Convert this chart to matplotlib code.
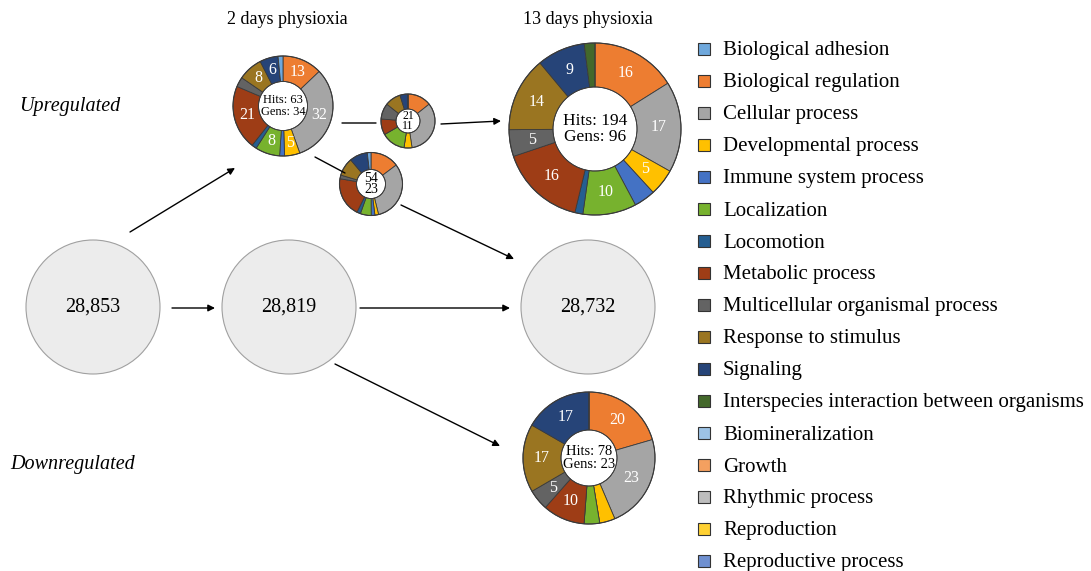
import matplotlib
matplotlib.use("Agg")
import matplotlib.pyplot as plt
from matplotlib.patches import Circle, Rectangle
import numpy as np

W, H = 1091, 571

categories = ["Biological adhesion", "Biological regulation", "Cellular process",
              "Developmental process", "Immune system process", "Localization",
              "Locomotion", "Metabolic process", "Multicellular organismal process",
              "Response to stimulus", "Signaling", "Interspecies interaction between organisms",
              "Biomineralization", "Growth", "Rhythmic process", "Reproduction",
              "Reproductive process"]
colors = ["#6FA8DC", "#ED7D31", "#A5A5A5", "#FFC000", "#4472C4", "#77B22E",
          "#255E91", "#9E3D16", "#636363", "#9A7521", "#264478", "#43682B",
          "#9DC3E6", "#F4A060", "#BDBDBD", "#FFD133", "#6F90D0"]

# order of wedges clockwise from 12 o'clock (category names)
ring_order = ["Biological regulation", "Cellular process", "Developmental process",
              "Immune system process", "Localization", "Locomotion", "Metabolic process",
              "Multicellular organismal process", "Response to stimulus", "Signaling",
              "Interspecies interaction between organisms", "Biological adhesion"]

# percentages per category (ring order)
up_2d      = [13, 32, 5, 1.6, 8, 1.6, 21, 3.2, 8, 6, 0, 1.6]
up_2d_13d  = [14.3, 33.3, 4.8, 0, 14.3, 0, 9.5, 9.5, 9.5, 4.8, 0, 0]
up_2d_only = [14.8, 31.5, 1.9, 1.9, 5.6, 1.9, 20.4, 1.9, 9.3, 9.3, 0, 1.9]
up_13d     = [16, 17, 5, 4, 10, 1.5, 16, 5, 14, 9, 2, 0]
down_13d   = [20.5, 23.1, 3.8, 0, 3.8, 0, 10.3, 5.1, 16.7, 16.7, 0, 0]

total_counts = ["28,853", "28,819", "28,732"]
center_texts = ["Hits: 63\nGens: 34", "21\n11", "54\n23", "Hits: 194\nGens: 96", "Hits: 78\nGens: 23"]

SERIF = ["Liberation Serif", "DejaVu Serif"]

fig = plt.figure(figsize=(W / 100, H / 100), dpi=100)
ax = fig.add_axes([0, 0, 1, 1])

def Y(y):
    return H - y

def donut(vals, cx, cy, r, ri, ctext, cfs, lfs, labels=True, ls=0.95):
    cols = [colors[categories.index(n)] for n in ring_order]
    wedges, _ = ax.pie(vals, colors=cols[:len(vals)], radius=r, center=(cx, Y(cy)),
                       startangle=90, counterclock=False, frame=True,
                       wedgeprops=dict(width=r - ri, edgecolor="#3a3a3a", linewidth=0.6))
    ax.add_patch(Circle((cx, Y(cy)), r, fill=False, edgecolor="#3a3a3a", lw=0.8, zorder=3))
    ax.add_patch(Circle((cx, Y(cy)), ri, fill=False, edgecolor="#3a3a3a", lw=0.6, zorder=3))
    if labels:
        rm = (r + ri) / 2
        for w, val in zip(wedges, vals):
            if val >= 4.5:
                a = np.deg2rad((w.theta1 + w.theta2) / 2)
                ax.text(cx + rm * np.cos(a), Y(cy) + rm * np.sin(a), f"{round(val)}",
                        color="white", fontsize=lfs, ha="center", va="center",
                        family=SERIF, zorder=4)
    ax.text(cx, Y(cy), ctext, fontsize=cfs, ha="center", va="center", family=SERIF,
            linespacing=ls, zorder=4)

# big gray circles
for (cx, cy), t in zip([(93, 307), (289, 307), (588, 307)], total_counts):
    ax.add_patch(Circle((cx, Y(cy)), 67, facecolor="#ECECEC", edgecolor="#A0A0A0", lw=0.8))
    ax.text(cx, Y(cy), t, fontsize=14.5, ha="center", va="center", family=SERIF)

donut(up_2d, 283, 106, 50, 24.5, center_texts[0], 9, 11.5)
donut(up_2d_13d, 408, 121, 27, 12, center_texts[1], 8.5, 8, labels=False, ls=0.8)
donut(up_2d_only, 371, 184, 31.5, 14.5, center_texts[2], 10, 8, labels=False, ls=0.8)
donut(up_13d, 595, 129, 86, 42, center_texts[3], 12.5, 11.5)
donut(down_13d, 589, 458, 66, 28, center_texts[4], 10.5, 11.5)

def arrow(x0, y0, x1, y1, head=True):
    ax.annotate("", xy=(x1, Y(y1)), xytext=(x0, Y(y0)),
                arrowprops=dict(arrowstyle="-|>" if head else "-", color="black", lw=1.0,
                                mutation_scale=10, shrinkA=0, shrinkB=0))

arrow(130, 232, 235, 168)
arrow(172, 308, 215, 308)
arrow(360, 308, 510, 308)
arrow(335, 364, 500, 446)
arrow(342, 123, 376, 123, head=False)
arrow(441, 124, 501, 121)
arrow(315, 157, 345, 173, head=False)
arrow(401, 205, 514, 259)

ax.text(287, Y(20), "2 days physioxia", fontsize=13, ha="center", va="center", family=SERIF)
ax.text(588, Y(20), "13 days physioxia", fontsize=13, ha="center", va="center", family=SERIF)
ax.text(70, Y(107), "Upregulated", fontsize=14.5, ha="center", va="center", family=SERIF, style="italic")
ax.text(73, Y(464), "Downregulated", fontsize=14.5, ha="center", va="center", family=SERIF, style="italic")

# legend
for i, (name, col) in enumerate(zip(categories, colors)):
    y = 49 + i * 32
    ax.add_patch(Rectangle((698, Y(y) - 6), 12, 12, facecolor=col, edgecolor="#333333", lw=0.8))
    ax.text(723, Y(y + 2), name, fontsize=15, ha="left", va="center", family=SERIF)

ax.set_xlim(0, W)
ax.set_ylim(0, H)
ax.set_aspect("auto")
ax.axis("off")
fig.savefig("out.png", dpi=100)
